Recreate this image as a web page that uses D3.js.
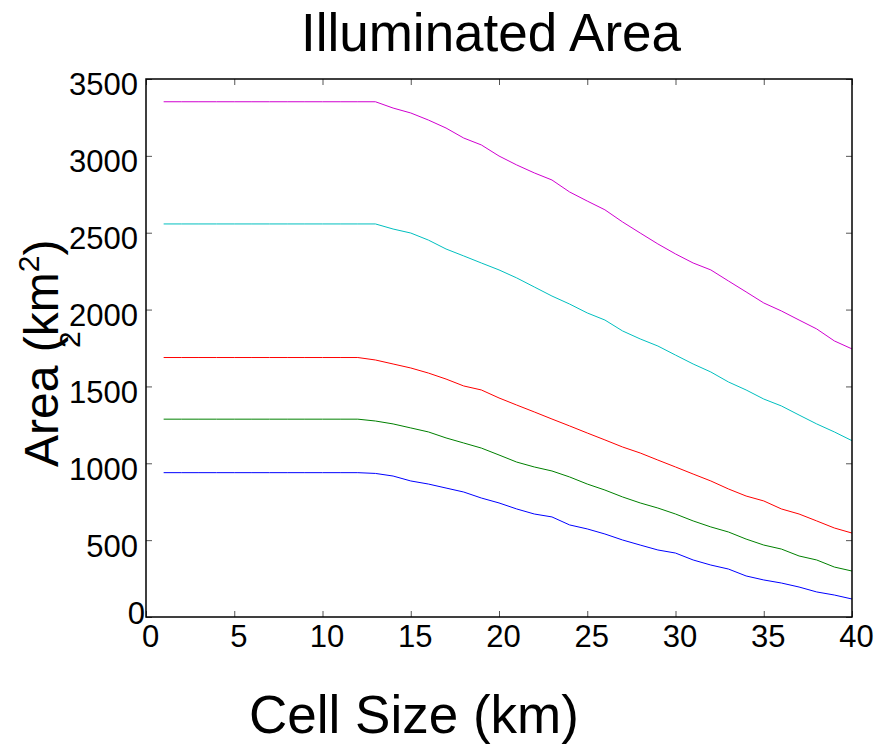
<!DOCTYPE html>
<html>
<head>
<meta charset="utf-8">
<script src="https://cdn.jsdelivr.net/npm/d3@7"></script>
<style>
  body { margin: 0; background: #fff; }
  text { font-family: "Liberation Sans", Arial, Helvetica, sans-serif; }
</style>
</head>
<body>
<script>
// tamaño de celda (km), de 1 a 40
var celdas = d3.range(1, 41);

// área iluminada (km²) por serie
var serieAzul = [939, 939, 939, 939, 939, 939, 939, 939, 939, 939, 939, 939,
  934, 917, 885, 865, 839, 813, 774, 742, 703, 670, 651, 599, 573, 540, 501, 468,
  436, 416, 371, 338, 312, 267, 241, 221, 195, 163, 143, 117];
var serieVerde = [1287, 1287, 1287, 1287, 1287, 1287, 1287, 1287, 1287, 1287, 1287, 1287,
  1275, 1256, 1230, 1204, 1165, 1132, 1099, 1054, 1008, 976, 950, 911, 865, 826, 781, 742,
  709, 670, 625, 586, 553, 507, 468, 442, 397, 371, 325, 299];
var serieRoja = [1688, 1688, 1688, 1688, 1688, 1688, 1688, 1688, 1688, 1688, 1688, 1688,
  1672, 1646, 1620, 1587, 1548, 1503, 1477, 1425, 1379, 1334, 1288, 1243, 1197, 1152, 1106, 1067,
  1021, 976, 930, 885, 833, 787, 755, 703, 670, 625, 579, 546];
var serieCian = [2557, 2557, 2557, 2557, 2557, 2557, 2557, 2557, 2557, 2557, 2557, 2557,
  2557, 2524, 2498, 2452, 2394, 2349, 2303, 2258, 2206, 2147, 2088, 2036, 1978, 1932, 1861, 1809,
  1763, 1704, 1646, 1594, 1529, 1477, 1418, 1373, 1314, 1256, 1204, 1147];
var serieMagenta = [3352, 3352, 3352, 3352, 3352, 3352, 3352, 3352, 3352, 3352, 3352, 3352,
  3352, 3311, 3279, 3233, 3181, 3116, 3071, 2999, 2941, 2889, 2843, 2765, 2706, 2649, 2570, 2498,
  2427, 2362, 2303, 2258, 2186, 2115, 2043, 1991, 1932, 1874, 1796, 1744];

var ticksX = [0, 5, 10, 15, 20, 25, 30, 35, 40];
var ticksY = [0, 500, 1000, 1500, 2000, 2500, 3000, 3500];

var series = [
  { valores: serieAzul, color: "#0000ff" },
  { valores: serieVerde, color: "#008000" },
  { valores: serieRoja, color: "#ff0000" },
  { valores: serieCian, color: "#00bfbf" },
  { valores: serieMagenta, color: "#d000d0" }
];

var width = 888;
var height = 749;

var margen = { arriba: 79, abajo: 132, izquierda: 146, derecha: 36 };

var escalaX = d3.scaleLinear()
  .domain([0, 40])
  .range([margen.izquierda, width - margen.derecha]);

var escalaY = d3.scaleLinear()
  .domain([0, 3500])
  .range([height - margen.abajo, margen.arriba]);

var svg = d3.select("body")
  .append("svg")
  .attr("width", width)
  .attr("height", height);

// ticks hacia dentro en los cuatro lados
function estiloEje(g) {
  g.select(".domain").remove();
  g.selectAll(".tick line").attr("stroke", "#555").attr("stroke-width", 1);
  g.selectAll(".tick text").attr("fill", "#000").style("font-size", "31px")
    .style("font-family", "'Liberation Sans', Arial, sans-serif");
}

var formato = d3.format("d");

svg.append("g")
  .attr("transform", "translate(0," + escalaY(0) + ")")
  .call(d3.axisBottom(escalaX).tickValues(ticksX).tickFormat(formato)
    .tickSizeInner(-6).tickSizeOuter(0).tickPadding(8))
  .call(estiloEje)
  .selectAll(".tick text").attr("x", 4);

svg.append("g")
  .attr("transform", "translate(0," + escalaY(3500) + ")")
  .call(d3.axisTop(escalaX).tickValues(ticksX).tickSizeInner(-6).tickSizeOuter(0).tickFormat(""))
  .call(estiloEje);

svg.append("g")
  .attr("transform", "translate(" + escalaX(0) + ",0)")
  .call(d3.axisLeft(escalaY).tickValues(ticksY).tickFormat(formato)
    .tickSizeInner(-6).tickSizeOuter(0).tickPadding(8))
  .call(estiloEje)
  .selectAll(".tick text").attr("y", function (d) { return d === 0 ? -3 : 6; })
  .attr("x", function (d) { return d === 0 ? -1 : -8; });

svg.append("g")
  .attr("transform", "translate(" + escalaX(40) + ",0)")
  .call(d3.axisRight(escalaY).tickValues(ticksY).tickSizeInner(-6).tickSizeOuter(0).tickFormat(""))
  .call(estiloEje);

// líneas
var linea = d3.line()
  .x(function (d) { return escalaX(d[0]); })
  .y(function (d) { return escalaY(d[1]); });

svg.selectAll(".serie")
  .data(series)
  .join("path")
  .attr("class", "serie")
  .attr("fill", "none")
  .attr("stroke", function (d) { return d.color; })
  .attr("stroke-width", 1)
  .attr("d", function (d) { return linea(d.valores.map(function (v, i) { return [celdas[i], v]; })); });

// caja
svg.append("rect")
  .attr("x", escalaX(0))
  .attr("y", escalaY(3500))
  .attr("width", escalaX(40) - escalaX(0))
  .attr("height", escalaY(0) - escalaY(3500))
  .attr("fill", "none")
  .attr("stroke", "#000")
  .attr("stroke-width", 1.5);

// textos
svg.append("text")
  .attr("x", 491)
  .attr("y", 51)
  .attr("text-anchor", "middle")
  .style("font-size", "53px")
  .text("Illuminated Area");

svg.append("text")
  .attr("x", 414)
  .attr("y", 733)
  .attr("text-anchor", "middle")
  .style("font-size", "53px")
  .text("Cell Size (km)");

var etiquetaY = svg.append("text")
  .attr("transform", "translate(58,467) rotate(-90)")
  .style("font-size", "48px");
etiquetaY.append("tspan").text("Area (km");
etiquetaY.append("tspan").attr("dy", -19).style("font-size", "30px").text("2");
etiquetaY.append("tspan").attr("dy", 19).text(")");

svg.append("text")
  .attr("transform", "translate(80,348) rotate(-90)")
  .style("font-size", "30px")
  .text("2");
</script>
</body>
</html>
